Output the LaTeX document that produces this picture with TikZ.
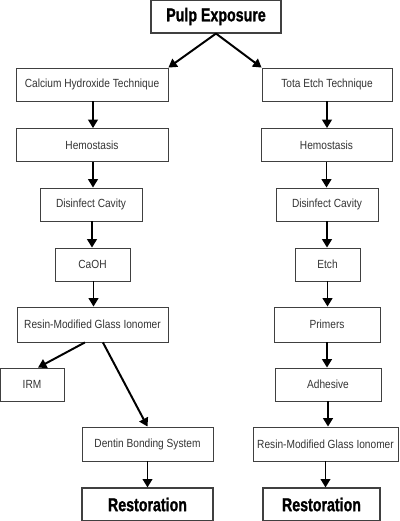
\documentclass[tikz,border=0pt]{standalone}
\usepackage{fontspec}
\usetikzlibrary{arrows.meta}
\newfontfamily\boxfont[FakeStretch=0.86]{Liberation Sans}
\newfontfamily\headfont[FakeStretch=0.76,FakeBold=1.2]{Liberation Sans Bold}
\tikzset{
	box/.style={draw=black!75, line width=0.6pt, minimum height=0.825cm, inner sep=0pt,
		font=\boxfont\fontsize{8.4}{10}\selectfont, text=black!80},
	headbox/.style={box, line width=0.8pt, font=\headfont\fontsize{13.3}{15}\selectfont, text=black},
	arr/.style={line width=1.4pt, -{Triangle[length=0.21cm,width=0.24cm]}}
}
\begin{document}
\begin{tikzpicture}
	\useasboundingbox (0,0) rectangle (10,-13.025);
	\node[headbox, minimum width=3.25cm](top) at (5.4,-0.4125) {Pulp Exposure};
	% left branch
	\node[box, minimum width=3.8cm](a1) at (2.3,-2.1125) {Calcium Hydroxide Technique};
	\node[box, minimum width=3.8cm](a2) at (2.3,-3.625) {Hemostasis};
	\node[box, minimum width=2.55cm](a3) at (2.275,-5.1125) {Disinfect Cavity};
	\node[box, minimum width=1.875cm](a4) at (2.3125,-6.6125) {CaOH};
	\node[box, minimum width=3.775cm, minimum height=0.875cm](a5) at (2.3125,-8.1125) {Resin-Modified Glass Ionomer};
	\node[box, minimum width=1.6cm](a6) at (0.8,-9.6125) {IRM};
	\node[box, minimum width=3.275cm, minimum height=0.85cm](a7) at (3.6875,-11.1) {Dentin Bonding System};
	\node[headbox, minimum width=3.275cm](a8) at (3.6875,-12.6125) {Restoration};
	% right branch
	\node[box, minimum width=3.25cm](b1) at (8.175,-2.1125) {Tota Etch Technique};
	\node[box, minimum width=3.275cm](b2) at (8.1625,-3.625) {Hemostasis};
	\node[box, minimum width=2.55cm](b3) at (8.175,-5.1125) {Disinfect Cavity};
	\node[box, minimum width=1.625cm](b4) at (8.1875,-6.6125) {Etch};
	\node[box, minimum width=2.65cm, minimum height=0.875cm](b5) at (8.175,-8.1125) {Primers};
	\node[box, minimum width=2.65cm](b6) at (8.2,-9.6125) {Adhesive};
	\node[box, minimum width=3.625cm, minimum height=0.85cm](b7) at (8.1375,-11.1) {Resin-Modified Glass Ionomer};
	\node[headbox, minimum width=2.925cm](b8) at (8.0375,-12.6125) {Restoration};
	% arrows
	\draw[arr] (top.south) -- (a1.north east);
	\draw[arr] (top.south) -- (b1.north west);
	\foreach \i/\j in {1/2,2/3,3/4,4/5}{
		\draw[arr] ([xshift=0.025cm]a\i.south) -- ([xshift=0.025cm]a\i.south |- a\j.north);
	}
	\foreach \i/\j in {1/2,2/3,3/4,4/5,5/6,6/7,7/8}{
		\draw[arr] (b\i.south) -- (b\i.south |- b\j.north);
	}
	\draw[arr] ([xshift=-0.19cm]a5.south) -- ([xshift=0.15cm]a6.north);
	\draw[arr] ([xshift=0.26cm]a5.south) -- (a7.north);
	\draw[arr] (a7) -- (a8);
\end{tikzpicture}
\end{document}
